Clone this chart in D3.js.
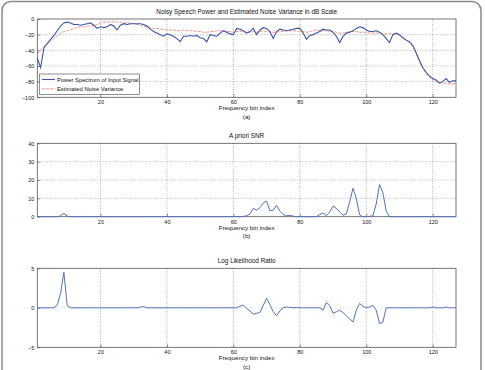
<!DOCTYPE html>
<html><head><meta charset="utf-8">
<script src="https://cdn.jsdelivr.net/npm/d3@7"></script>
<style>body{margin:0;background:#fff}svg{display:block}text{font-family:"Liberation Sans",Arial,sans-serif;fill:#111}</style>
</head><body><svg id="c" width="485" height="370"></svg>
<script>
const bins = d3.range(1, 128);
const xTicks = [20, 40, 60, 80, 100, 120];
const yTicksA = [0, -20, -40, -60, -80, -100];
const yTicksB = [0, 10, 20, 30, 40];
const yTicksC = [-5, 0, 5];
const titles = ["Noisy Speech Power and Estimated Noise Variance in dB Scale", "A priori SNR", "Log Likelihood Ratio"];
const subLabels = ["(a)", "(b)", "(c)"];
const xLabel = "Frequency bin index";
const legendLabels = ["Power Spectrum of Input Signal", "Estimated Noise Variance"];

const powerSpectrum = [-50,-62,-37,-31,-26,-21,-15,-9,-5,-4,-5,-7,-7,-8,-7,-6,-5,-8,-12,-10,
-11,-10,-7,-9,-14,-8,-6,-7,-6,-6,-6,-6,-7,-9,-13,-16,-18,-20,-22,-19,
-20,-22,-25,-29,-22,-22,-21,-22,-21,-24,-25,-29,-20,-21,-22,-18,-15,-17,-19,-20,
-12,-13,-15,-18,-16,-12,-20,-14,-11,-12,-16,-25,-16,-13,-14,-15,-14,-13,-12,-12,
-18,-26,-21,-20,-18,-16,-13,-14,-14,-17,-22,-30,-22,-18,-17,-15,-12,-10,-11,-14,
-16,-16,-15,-17,-20,-25,-30,-20,-18,-20,-24,-27,-29,-34,-43,-53,-62,-68,-73,-76,
-78,-82,-80,-76,-81,-79,-79];
const noiseVar = [-45,-40,-35,-32,-29,-25,-21,-18,-16,-15,-14,-12,-11,-10,-10,-9,-9,-8,-7,-5,
-4,-4,-4,-3,-4,-4,-5,-5,-5,-6,-7,-8,-9,-10,-11,-12,-12,-13,-13,-14,
-14,-14,-15,-15,-14,-15,-15,-15,-16,-16,-17,-17,-16,-16,-15,-15,-15,-16,-16,-17,
-16,-16,-16,-17,-17,-16,-17,-16,-15,-16,-17,-17,-17,-16,-16,-15,-15,-15,-15,-16,
-16,-17,-16,-15,-14,-15,-15,-15,-16,-16,-17,-18,-18,-17,-16,-16,-16,-17,-17,-17,
-18,-18,-18,-18,-19,-19,-19,-19,-19,-21,-24,-27,-30,-35,-44,-54,-63,-70,-74,-78,
-80,-81,-82,-82,-83,-83,-82];
const aprioriSNR = [0,0,0,0,0,0,0,0.5,1.8,0.3,0,0,0,0,0,0,0,0,0,0,
0,0,0,0,0,0,0,0,0,0,0,0,0,0,0,0,0,0,0,0,
0,0,0,0,0,0,0,0,0,0,0,0,0,0,0,0,0,0,0,0,
0,0,0.2,0.5,1.5,4.6,3.6,5,7.5,8.5,3.2,3.6,6.2,3,1.2,0.5,0.8,0.3,0,0,
0,0,0,0,0,1.2,2,0.6,2.5,5.8,4.5,2.5,0.8,1.5,8,15.5,10,1,0,0,
0.2,0.5,7,17.5,13,3,0,0,0,0,0,0,0,0,0,0,0,0,0,0,
0,0,0,0,0,0,0];
const llr = [0,0,0,0,0,0,0.35,1.8,4.5,0.3,0,0,0,0,0,0,0,0,0,0,
0,0,0,0,0,0,0,0,0,0,0,0.1,0.15,0,0,0,0,0,0,0,
0,0,0,0,0,0,0,0,0,0,0,0,0,0,0,0,0,0,0,0,
0,0.2,0.35,-0.1,-0.4,-0.8,-0.7,-0.6,0.3,1.2,0.4,-0.5,-1.0,-0.4,0,0.1,0.05,0,0.05,0,
0,0,0,0,0,0,-0.3,0.7,0.3,-0.7,-0.5,-0.3,-0.6,-1.0,-1.4,-1.8,-0.3,0.55,0.2,0,
0.1,0.3,-0.3,-2.0,-1.8,0,0,0,0,0,0,0,0,0,0,0,0,0,0,0.1,
0,0,0,0.1,0,0,0];

const svg = d3.select("#c");
svg.append("rect").attr("x", 2).attr("y", 1.5).attr("width", 479).attr("height", 400)
  .attr("rx", 9).attr("fill", "none").attr("stroke", "#8a8a8a").attr("stroke-width", 1.5);

const x = d3.scaleLinear().domain([1, 127]).range([37.3, 456]);
const panels = [
  {top: 19, bottom: 97.3, domain: [-100, 0], ticks: yTicksA, hgrid: [-20, -40, -60, -80]},
  {top: 143.3, bottom: 216.7, domain: [0, 40], ticks: yTicksB, hgrid: [10, 20, 30]},
  {top: 268.3, bottom: 347.3, domain: [-5, 5], ticks: yTicksC, hgrid: [0]}
];
const cx = (x.range()[0] + x.range()[1]) / 2;

panels.forEach((p, i) => {
  const y = d3.scaleLinear().domain(p.domain).range([p.bottom, p.top]);
  p.y = y;
  const g = svg.append("g");
  // grid
  g.selectAll(".vg").data(xTicks).join("line")
    .attr("x1", d => x(d)).attr("x2", d => x(d)).attr("y1", p.top).attr("y2", p.bottom)
    .attr("stroke", "#777").attr("stroke-width", 0.6).attr("stroke-dasharray", "1,1.5");
  g.selectAll(".hg").data(p.hgrid).join("line")
    .attr("x1", x.range()[0]).attr("x2", x.range()[1]).attr("y1", d => y(d)).attr("y2", d => y(d))
    .attr("stroke", i === 2 ? "#bbb" : "#888").attr("stroke-width", 0.6).attr("stroke-dasharray", "1,1.5");
  // axes
  const xa = g.append("g").attr("transform", `translate(0,${p.bottom})`)
    .call(d3.axisBottom(x).tickValues(xTicks).tickSizeInner(-3).tickSizeOuter(0).tickPadding(3));
  const ya = g.append("g").attr("transform", `translate(${x.range()[0]},0)`)
    .call(d3.axisLeft(y).tickValues(p.ticks).tickSizeInner(-3).tickSizeOuter(0).tickPadding(3));
  [xa, ya].forEach(a => {
    a.select(".domain").remove();
    a.selectAll("line").attr("stroke", "#444").attr("stroke-width", 0.6);
    a.selectAll("text").attr("font-size", 5.5).attr("fill", "#222")
      .attr("font-family", "'Liberation Sans', Arial, sans-serif");
  });
  g.append("rect").attr("x", x.range()[0]).attr("y", p.top)
    .attr("width", x.range()[1] - x.range()[0]).attr("height", p.bottom - p.top)
    .attr("fill", "none").attr("stroke", "#555").attr("stroke-width", 0.8);
  g.append("text").attr("x", cx).attr("y", p.top - 5.5).attr("text-anchor", "middle")
    .attr("font-size", 6.4).text(titles[i]);
  g.append("text").attr("x", cx).attr("y", p.bottom + 13).attr("text-anchor", "middle")
    .attr("font-size", 6.2).text(xLabel);
  g.append("text").attr("x", cx).attr("y", p.bottom + 21.5).attr("text-anchor", "middle")
    .attr("font-size", 6.2).text(subLabels[i]);
});

const line = (y) => d3.line().x((d, i) => x(bins[i])).y(d => y(d));
const p0 = panels[0];
svg.append("path").datum(noiseVar).attr("d", line(p0.y)).attr("fill", "none")
  .attr("stroke", "#f08a78").attr("stroke-width", 0.9).attr("stroke-dasharray", "3,1.2");
svg.append("path").datum(powerSpectrum).attr("d", line(p0.y)).attr("fill", "none")
  .attr("stroke", "#3a56a5").attr("stroke-width", 1.1);
svg.append("path").datum(aprioriSNR).attr("d", line(panels[1].y)).attr("fill", "none")
  .attr("stroke", "#5473bb").attr("stroke-width", 1);
svg.append("path").datum(llr).attr("d", line(panels[2].y)).attr("fill", "none")
  .attr("stroke", "#5473bb").attr("stroke-width", 1);

// legend
const lg = svg.append("g");
lg.append("rect").attr("x", 39.5).attr("y", 74).attr("width", 100).attr("height", 20.5)
  .attr("fill", "#fff").attr("stroke", "#444").attr("stroke-width", 0.6);
const legStyles = [{c: "#3a56a5", w: 1.1, da: null}, {c: "#f08a78", w: 0.9, da: "3,1.2"}];
legendLabels.forEach((t, i) => {
  const yy = 79.5 + i * 9.3;
  lg.append("line").attr("x1", 42).attr("x2", 55).attr("y1", yy).attr("y2", yy)
    .attr("stroke", legStyles[i].c).attr("stroke-width", legStyles[i].w)
    .attr("stroke-dasharray", legStyles[i].da);
  lg.append("text").attr("x", 57).attr("y", yy + 2).attr("font-size", 5.8).text(t);
});
</script></body></html>
